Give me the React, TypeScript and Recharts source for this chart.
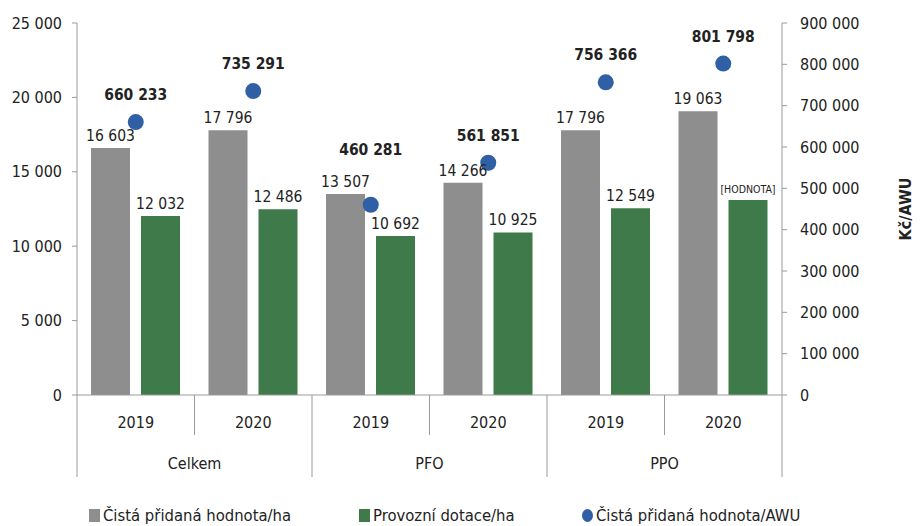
import { Bar, ComposedChart, LabelList, Scatter, XAxis, YAxis } from "recharts";

const years = ["2019", "2020", "2019", "2020", "2019", "2020"];
const groups = ["Celkem", "Celkem", "PFO", "PFO", "PPO", "PPO"];
const cphHa = [16603, 17796, 13507, 14266, 17796, 19063];
const dotaceHa = [12032, 12486, 10692, 10925, 12549, 13100];
const cphAwu = [660233, 735291, 460281, 561851, 756366, 801798];
const dotaceLabelOverride = [null, null, null, null, null, "[HODNOTA]"];
const leftTicks = [0, 5000, 10000, 15000, 20000, 25000];
const rightTicks = [0, 100000, 200000, 300000, 400000, 500000, 600000, 700000, 800000, 900000];

// extra lift for dot labels that would collide with a bar label
const dotLabelLift: Record<number, number> = { 2: 28 };

const FONT = "'Liberation Sans Narrow', 'DejaVu Sans Condensed', sans-serif";
const GRAY = "#8e8e8e";
const GREEN = "#3f7a4b";
const BLUE = "#2f5fa4";
const AXIS = "#9a9a9a";
const TEXT = "#222";

const fmt = (n: number) => String(n).replace(/\B(?=(\d{3})+(?!\d))/g, " ");

const data = years.map((y, i) => ({
  key: i,
  year: y,
  group: groups[i],
  cph: cphHa[i],
  dotace: dotaceHa[i],
  awu: cphAwu[i],
  dotaceLabel: dotaceLabelOverride[i] ?? fmt(dotaceHa[i]),
}));

const YearTick = (props: any) => {
  const { x, y, payload, index } = props;
  const half = payload.offset ?? 0;
  const row = data[index];
  return (
    <g>
      {index === 0 && <line x1={x - half} x2={x - half} y1={y} y2={y + 82} stroke={AXIS} />}
      <line x1={x + half} x2={x + half} y1={y} y2={index % 2 === 1 ? y + 82 : y + 40} stroke={AXIS} />
      <text x={x} y={y + 33} textAnchor="middle" fontSize={16} fill={TEXT} fontFamily={FONT}>
        {row.year}
      </text>
      {index % 2 === 1 && (
        <text x={x - half} y={y + 74} textAnchor="middle" fontSize={16} fill={TEXT} fontFamily={FONT}>
          {row.group}
        </text>
      )}
    </g>
  );
};

const DotShape = (props: any) => {
  const { cx, cy, payload, index } = props;
  const lift = dotLabelLift[payload.key ?? index] ?? 0;
  return (
    <g>
      <circle cx={cx} cy={cy} r={8} fill={BLUE} />
      <text x={cx} y={cy - 22 - lift} textAnchor="middle" fontSize={15.5} fontWeight="bold" fill={TEXT} fontFamily={FONT}>
        {fmt(payload.awu)}
      </text>
    </g>
  );
};

const BarTopLabel = (props: any) => {
  const { x, y, width, value } = props;
  const small = String(value).startsWith("[");
  return (
    <text
      x={x + width / 2}
      y={y - 7}
      textAnchor="middle"
      fontSize={small ? 10.5 : 15.5}
      fill={TEXT}
      fontFamily={FONT}
    >
      {typeof value === "number" ? fmt(value) : value}
    </text>
  );
};

const AxisTitle = (props: any) => {
  const vb = props.viewBox;
  const x = vb.x + vb.width - 11;
  const y = vb.y + vb.height / 2;
  return (
    <text x={x} y={y} transform={`rotate(-90 ${x} ${y})`} textAnchor="middle" fontSize={16} fontWeight="bold" fill={TEXT} fontFamily={FONT}>
      Kč/AWU
    </text>
  );
};

const legendItems = [
  { name: "Čistá přidaná hodnota/ha", color: GRAY, left: 89, round: false },
  { name: "Provozní dotace/ha", color: GREEN, left: 359, round: false },
  { name: "Čistá přidaná hodnota/AWU", color: BLUE, left: 582, round: true },
];

export default function App() {
  return (
    <div style={{ position: "absolute", left: 0, top: 0, width: 922, height: 526, background: "#fff", fontFamily: FONT }}>
      <ComposedChart
        width={922}
        height={526}
        data={data}
        margin={{ top: 23, right: 0, bottom: 49, left: 0 }}
        barSize={39}
        barGap={11}
      >
        <XAxis
          xAxisId="year"
          dataKey="key"
          height={82}
          stroke={AXIS}
          tickLine={false}
          tickSize={0}
          tickMargin={0}
          interval={0}
          tick={<YearTick />}
        />
        <YAxis
          yAxisId="left"
          width={77}
          domain={[0, 25000]}
          ticks={leftTicks}
          tickFormatter={fmt}
          stroke={AXIS}
          tickSize={5}
          tickMargin={10}
          tick={{ fill: TEXT, fontSize: 16, fontFamily: FONT }}
        />
        <YAxis
          yAxisId="right"
          orientation="right"
          width={140}
          domain={[0, 900000]}
          ticks={rightTicks}
          tickFormatter={fmt}
          stroke={AXIS}
          tickSize={5}
          tickMargin={13}
          tick={{ fill: TEXT, fontSize: 16, fontFamily: FONT, textAnchor: "start" }}
          label={<AxisTitle />}
        />
        <Bar xAxisId="year" yAxisId="left" dataKey="cph" fill={GRAY} isAnimationActive={false}>
          <LabelList dataKey="cph" content={<BarTopLabel />} />
        </Bar>
        <Bar xAxisId="year" yAxisId="left" dataKey="dotace" fill={GREEN} isAnimationActive={false}>
          <LabelList dataKey="dotaceLabel" content={<BarTopLabel />} />
        </Bar>
        <Scatter xAxisId="year" yAxisId="right" dataKey="awu" fill={BLUE} shape={<DotShape />} isAnimationActive={false} />
      </ComposedChart>
      {legendItems.map((it) => (
        <div key={it.name} style={{ position: "absolute", top: 506, left: it.left, display: "flex", alignItems: "center", fontSize: 16.5, color: TEXT }}>
          <span style={{ display: "inline-block", width: 11, height: 13, background: it.color, borderRadius: it.round ? "50%" : 0, marginRight: 3 }} />
          <span>{it.name}</span>
        </div>
      ))}
    </div>
  );
}
